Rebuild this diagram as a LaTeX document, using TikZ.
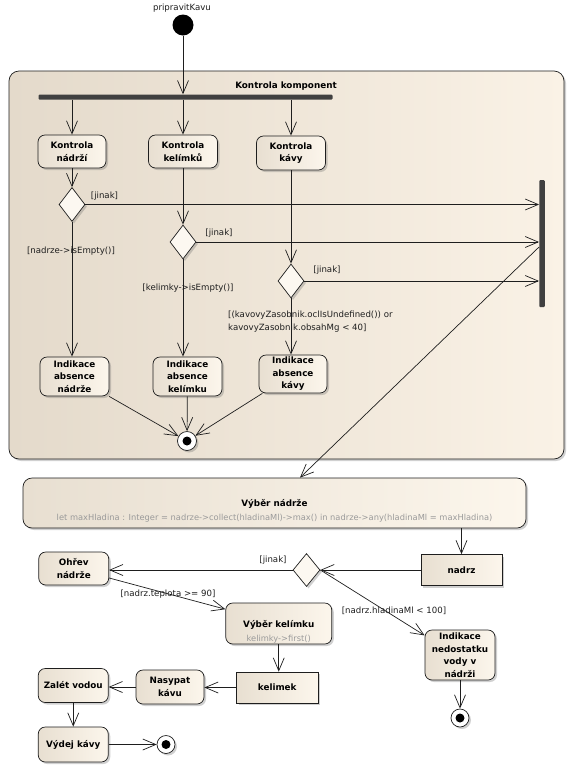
\documentclass[tikz,border=0pt]{standalone}
\usepackage{fontspec}
\setmainfont{DejaVu Sans}
\usetikzlibrary{arrows.meta,shapes.geometric,shadows,calc}
\definecolor{edge}{HTML}{1E1E1E}
\definecolor{bgL}{HTML}{E4DACB}
\definecolor{bgR}{HTML}{FAF2E6}
\definecolor{ndL}{HTML}{E8DFD1}
\definecolor{ndR}{HTML}{FCF6EC}
\definecolor{barcol}{HTML}{404040}
\definecolor{greytext}{HTML}{9A9A9A}
\definecolor{decfill}{HTML}{FCF8F1}
\begin{document}
\begin{tikzpicture}[x=1pt,y=-1pt,
  >={Straight Barb[length=13pt,width=11pt]},
  conn/.style={draw=edge,line width=0.7pt,->},
  shad/.style={drop shadow={shadow xshift=2pt,shadow yshift=-2pt,opacity=0.3,fill=black!60}},
  boldtxt/.style={font=\fontsize{8.8}{12.5}\selectfont\bfseries},
  action/.style={draw=edge,line width=0.7pt,rounded corners=7pt,left color=ndL,right color=ndR,shad,align=center,boldtxt,inner sep=0pt},
  objnode/.style={draw=edge,line width=0.7pt,left color=ndL,right color=ndR,shad,boldtxt,inner sep=0pt},
  dec/.style={diamond,draw=edge,line width=0.7pt,fill=decfill,minimum width=26pt,minimum height=34pt,inner sep=0pt,shad},
  finalnode/.style={circle,draw=edge,line width=0.7pt,fill=white,minimum size=19pt,inner sep=0pt,shad,
    path picture={\fill[black] (path picture bounding box.center) circle (4.5pt);}},
  barnode/.style={fill=barcol,inner sep=0pt,rounded corners=1pt},
  lbl/.style={font=\fontsize{8.6}{13}\selectfont,inner sep=0pt,text=edge},
  greylbl/.style={font=\fontsize{8.3}{10}\selectfont,inner sep=0pt,text=greytext}
]
\useasboundingbox (0,0) rectangle (575,772);
\fill[white] (0,0) rectangle (575,772);

% container
\node[draw=edge,line width=0.7pt,rounded corners=10pt,left color=bgL,right color=bgR,shad,minimum width=555pt,minimum height=388pt,inner sep=0pt] (kk) at (286.5,265) {};
\node[boldtxt,inner sep=0pt] (kktitle) at (286,86) {Kontrola komponent};

% start
\node[lbl] (startlbl) at (182,8) {pripravitKavu};
\node[circle,fill=black,minimum size=21pt,inner sep=0pt] (start) at (183,25) {};

% fork / join bars
\node[barnode,minimum width=294pt,minimum height=5pt] (fork) at (185.5,97) {};
\node[barnode,minimum width=5.5pt,minimum height=127pt] (join) at (542,243.5) {};

% checks
\node[action,minimum width=68pt,minimum height=33pt] (k1) at (72,151.5) {Kontrola\\nádrží};
\node[action,minimum width=69pt,minimum height=33pt] (k2) at (183,151.5) {Kontrola\\kelímků};
\node[action,minimum width=69pt,minimum height=34pt] (k3) at (291,153) {Kontrola\\kávy};

% decisions
\node[dec] (d1) at (72,204.5) {};
\node[dec] (d2) at (183,242) {};
\node[dec] (d3) at (291,281) {};

% indications
\node[action,minimum width=69pt,minimum height=39pt] (i1) at (74.5,376.5) {Indikace\\absence\\nádrže};
\node[action,minimum width=69pt,minimum height=39pt] (i2) at (187.5,376.5) {Indikace\\absence\\kelímku};
\node[action,minimum width=68pt,minimum height=38pt] (i3) at (293,374) {Indikace\\absence\\kávy};
\node[finalnode] (f1) at (187,441) {};

% labels inside container
\node[lbl] (j1) at (104.5,196) {[jinak]};
\node[lbl] (j2) at (219,233) {[jinak]};
\node[lbl] (j3) at (327,270) {[jinak]};
\node[lbl] (g1) at (71,251) {[nadrze->isEmpty()]};
\node[lbl] (g2) at (188,288) {[kelimky->isEmpty()]};
\node[lbl,anchor=west,align=left] (g3) at (228,321.5) {[(kavovyZasobnik.oclIsUndefined()) or\\kavovyZasobnik.obsahMg < 40]};

% Vyber nadrze
\node[draw=edge,line width=0.7pt,rounded corners=9pt,left color=ndL,right color=ndR,shad,minimum width=503pt,minimum height=50pt,inner sep=0pt] (vn) at (274.5,503) {};
\node[boldtxt,inner sep=0pt] (vntitle) at (274.5,504) {Výběr nádrže};
\node[greylbl] (vnexpr) at (274.5,518.5) {let maxHladina : Integer = nadrze->collect(hladinaMl)->max() in nadrze->any(hladinaMl = maxHladina)};

% lower part
\node[objnode,minimum width=81pt,minimum height=31pt] (nadrz) at (461.5,570) {nadrz};
\node[dec,minimum width=27pt,minimum height=33pt] (d4) at (306.5,570) {};
\node[action,minimum width=70pt,minimum height=33pt] (oh) at (73.75,568.5) {Ohřev\\nádrže};
\node[action,minimum width=106pt,minimum height=41pt] (vk) at (278.75,623.5) {};
\node[boldtxt,inner sep=0pt] (vktitle) at (278.75,625) {Výběr kelímku};
\node[greylbl] (vkexpr) at (278.75,639) {kelimky->first()};
\node[action,minimum width=70pt,minimum height=50pt] (in) at (460,655) {Indikace\\nedostatku\\vody v\\nádrži};
\node[finalnode,minimum size=18pt] (f2) at (460,718) {};
\node[objnode,minimum width=81.5pt,minimum height=31pt] (kel) at (277.25,687.5) {kelimek};
\node[action,minimum width=68pt,minimum height=34pt] (nk) at (170,687) {Nasypat\\kávu};
\node[action,minimum width=70pt,minimum height=34pt] (zv) at (73.25,685.5) {Zalét vodou};
\node[action,minimum width=70pt,minimum height=35pt] (vd) at (73.25,744.5) {Výdej kávy};
\node[finalnode,minimum size=18pt] (f3) at (166,744.5) {};

\node[lbl] (j4) at (273,560) {[jinak]};
\node[lbl] (g4) at (168,594) {[nadrz.teplota >= 90]};
\node[lbl] (g5) at (394,611) {[nadrz.hladinaMl < 100]};

% connectors
\draw[conn] (start) -- (start |- fork.north);
\draw[conn] (k1 |- fork.south) -- (k1.north);
\draw[conn] (k2 |- fork.south) -- (k2.north);
\draw[conn] (k3 |- fork.south) -- (k3.north);
\draw[conn] (k1) -- (d1);
\draw[conn] (k2) -- (d2);
\draw[conn] (k3) -- (d3);
\draw[conn] (d1.east) -- (d1.east -| join.west);
\draw[conn] (d2.east) -- (d2.east -| join.west);
\draw[conn] (d3.east) -- (d3.east -| join.west);
\draw[conn] (d1.south) -- (d1.south |- i1.north);
\draw[conn] (d2.south) -- (d2.south |- i2.north);
\draw[conn] (d3.south) -- (d3.south |- i3.north);
\draw[conn] (i1) -- (f1);
\draw[conn] (i2) -- (f1);
\draw[conn] (i3) -- (f1);
\coordinate (jout) at (541.5,247);
\coordinate (vin) at (300,478);
\draw[conn] (join.west |- jout) -- (vn.north -| vin);
\draw[conn] (vn.south -| nadrz) -- (nadrz.north);
\draw[conn] (nadrz.west) -- (d4.east);
\draw[conn] (d4.west) -- (d4.west -| oh.east);
\draw[conn] (oh.-15) -- (vk.165);
\draw[conn] (d4.east) -- (in.151);
\draw[conn] (in) -- (f2);
\draw[conn] (vk) -- (vk |- kel.north);
\draw[conn] (kel.west) -- (kel.west -| nk.east);
\draw[conn] (nk.west) -- (nk.west -| zv.east);
\draw[conn] (zv) -- (zv |- vd.north);
\draw[conn] (vd.east) -- (f3);
\end{tikzpicture}
\end{document}
